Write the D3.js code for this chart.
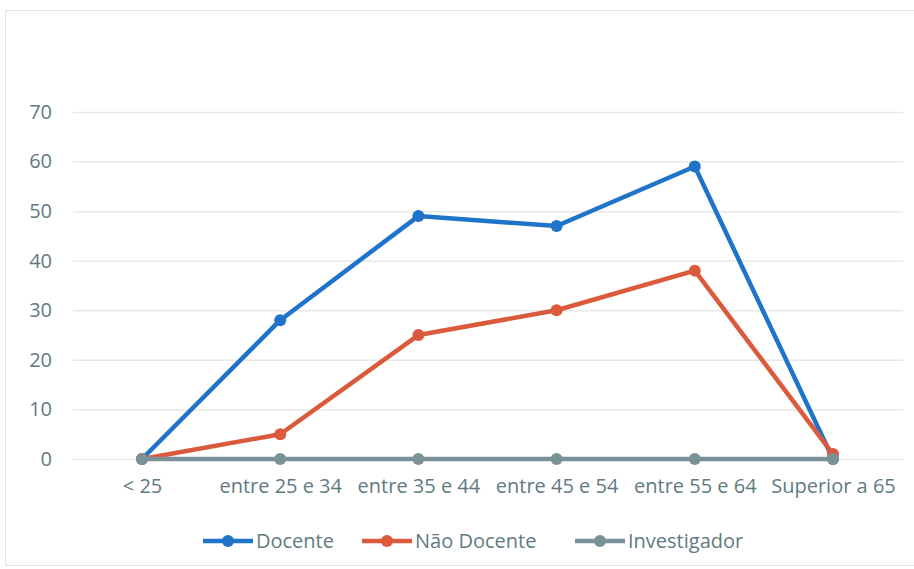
<!DOCTYPE html>
<html><head><meta charset="utf-8">
<script src="https://cdn.jsdelivr.net/npm/d3@7"></script>
<style>body{margin:0;background:#fff}svg{display:block}text{font-family:"Open Sans",sans-serif}</style>
</head><body><svg id="c" width="914" height="569"></svg>
<script>
const categories = ["< 25","entre 25 e 34","entre 35 e 44","entre 45 e 54","entre 55 e 64","Superior a 65"];
const docente = [0,28,49,47,59,0];
const naoDocente = [0,5,25,30,38,1];
const investigador = [0,0,0,0,0,0];
const yTicks = [0,10,20,30,40,50,60,70];
const seriesNames = ["Docente","Não Docente","Investigador"];
const colors = ["#1f73c9","#dc5a3c","#7b9198"];

const svg = d3.select("#c");
svg.append("rect").attr("x",5.5).attr("y",10.5).attr("width",920).attr("height",555).attr("fill","none").attr("stroke","#e6e6e6");
const x = d3.scalePoint().domain(categories).range([142,833]);
const y = d3.scaleLinear().domain([0,70]).range([459,112]);
const textCol = "#5f7b80";

const yAxis = svg.append("g").attr("transform","translate(73,0)")
  .call(d3.axisLeft(y).tickValues(yTicks).tickSize(-830).tickPadding(21));
yAxis.select(".domain").remove();
yAxis.selectAll("line").attr("stroke","#e8e8e8").attr("stroke-width",1.5);
yAxis.selectAll("text").attr("fill",textCol).attr("font-size",20).attr("text-anchor","end");

const xAxis = svg.append("g").attr("transform","translate(0,459)")
  .call(d3.axisBottom(x).tickSize(0).tickPadding(20));
xAxis.select(".domain").remove();
xAxis.selectAll("text").attr("fill",textCol).attr("font-size",20);

const data = [docente,naoDocente,investigador];
const line = d3.line().x((d,i)=>x(categories[i])).y(d=>y(d));
data.forEach((s,k)=>{
  const g = svg.append("g");
  g.append("path").datum(s).attr("d",line).attr("fill","none").attr("stroke",colors[k]).attr("stroke-width",4.5).attr("stroke-linejoin","round");
  g.selectAll("circle").data(s).join("circle").attr("cx",(d,i)=>x(categories[i])).attr("cy",d=>y(d)).attr("r",6).attr("fill",colors[k]);
});

const legX = [203,362,575];
seriesNames.forEach((n,k)=>{
  const g = svg.append("g").attr("transform",`translate(${legX[k]},541)`);
  g.append("line").attr("x1",0).attr("x2",50).attr("stroke",colors[k]).attr("stroke-width",4.5);
  g.append("circle").attr("cx",25).attr("r",6).attr("fill",colors[k]);
  g.append("text").attr("x",53).attr("y",7).attr("fill",textCol).attr("font-size",20).text(n);
});
</script></body></html>
